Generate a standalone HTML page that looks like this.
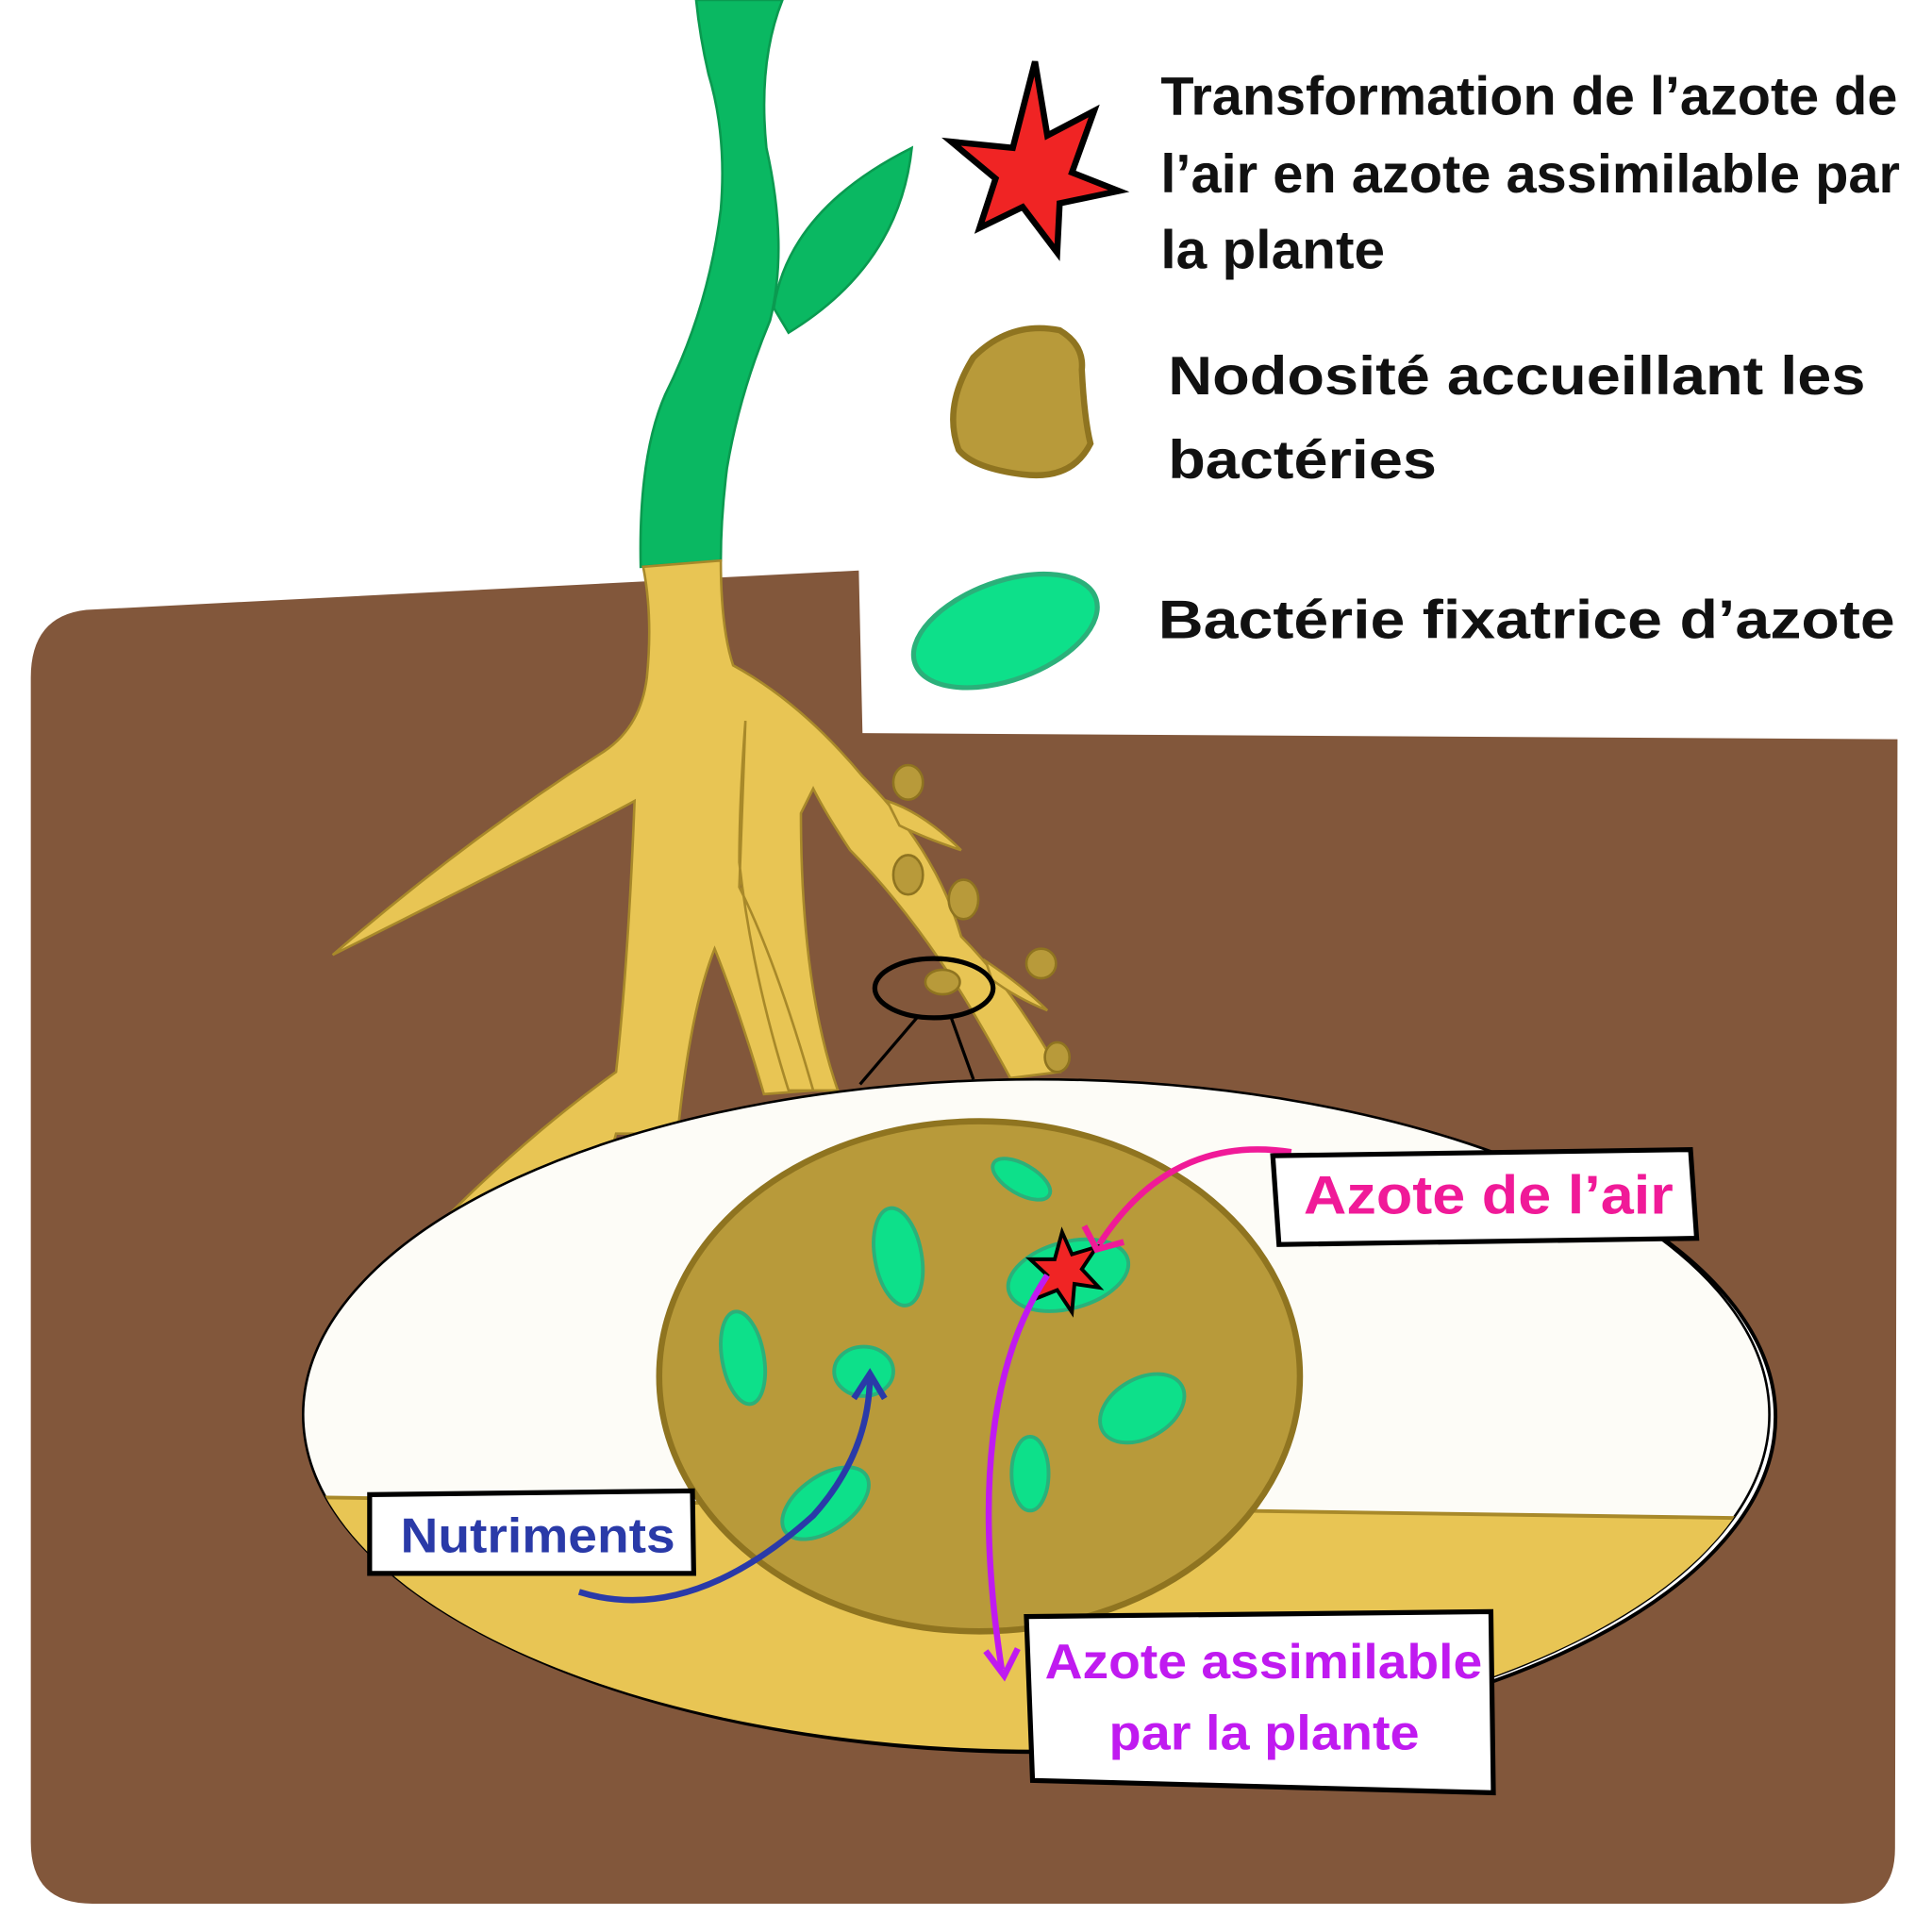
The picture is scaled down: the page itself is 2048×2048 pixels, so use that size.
<!DOCTYPE html>
<html><head><meta charset="utf-8"><style>html,body{margin:0;padding:0;background:#fff}svg{display:block}text{font-family:"Liberation Sans",sans-serif;font-weight:bold}</style></head>
<body>
<svg width="2048" height="2048" viewBox="0 0 1568 1568" xmlns="http://www.w3.org/2000/svg">
<defs><clipPath id="ec"><ellipse cx="841" cy="1148" rx="595" ry="272"/></clipPath></defs>
<path d="M70 495 L697 463 L700 595 L1540 600 L1538 1500 Q1538 1545 1495 1545 L75 1545 Q25 1545 25 1495 L25 550 Q25 500 70 495 Z" fill="#82573b"/>
<path d="M565 0 L635 0 Q615 50 622 120 Q640 200 625 260 Q600 320 590 380 Q585 420 585 455 L520 460 Q518 370 540 320 Q575 250 585 170 Q590 110 575 60 Q568 30 565 0 Z" fill="#0ab862" stroke="#0a9a50" stroke-width="2"/>
<path d="M628 250 Q640 170 740 120 Q730 215 640 270 Z" fill="#0ab862" stroke="#0a9a50" stroke-width="2"/>
<g fill="#e8c554" stroke="#a8892a" stroke-width="2">
<path d="M522 460 L585 455 Q585 510 595 540 Q650 570 700 630 Q760 690 780 760 Q820 800 860 870 L820 875 Q790 820 770 790 Q730 730 690 690 Q670 660 660 640 L650 660 Q650 800 680 885 L640 885 Q610 790 600 700 Q600 650 605 585 L600 720 Q630 780 660 885 L620 888 Q600 820 580 770 Q560 820 550 920 L500 920 Q480 1000 360 990 Q430 920 500 870 Q510 780 515 650 Q460 680 270 775 Q380 680 490 610 Q520 590 525 550 Q530 500 522 460 Z"/>
<path d="M720 650 Q750 660 780 690 Q750 680 730 670 Z"/>
<path d="M800 780 Q830 800 850 820 Q825 810 805 795 Z"/>
</g>
<g fill="#b89a3a" stroke="#8f7420" stroke-width="2">
<ellipse cx="737" cy="635" rx="12" ry="14"/><ellipse cx="737" cy="710" rx="12" ry="16"/><ellipse cx="782" cy="730" rx="12" ry="16"/><ellipse cx="845" cy="782" rx="12" ry="12"/><ellipse cx="858" cy="858" rx="10" ry="12"/><ellipse cx="765" cy="797" rx="14" ry="10"/>
</g>
<ellipse cx="758" cy="802" rx="48" ry="24" fill="none" stroke="#000" stroke-width="4"/>
<path d="M745 825 L698 880 M772 826 L790 876" stroke="#000" stroke-width="2.5"/>
<ellipse cx="846" cy="1150" rx="595" ry="272" fill="#fff" stroke="#000" stroke-width="3"/>
<ellipse cx="841" cy="1148" rx="595" ry="272" fill="#fdfcf7" stroke="#000" stroke-width="2"/>
<g clip-path="url(#ec)"><path d="M240 1215 L1410 1232 L1500 1500 L240 1500 Z" fill="#e8c554" stroke="#a8892a" stroke-width="3"/></g>
<ellipse cx="795" cy="1117" rx="260" ry="207" fill="#b89a3a" stroke="#8f7420" stroke-width="5"/>
<g fill="#0de08a" stroke="#2bb07a" stroke-width="3">
<ellipse cx="829" cy="957" rx="26" ry="12" transform="rotate(30 829 957)"/>
<ellipse cx="729" cy="1020" rx="19" ry="40" transform="rotate(-10 729 1020)"/>
<ellipse cx="603" cy="1102" rx="17" ry="38" transform="rotate(-10 603 1102)"/>
<ellipse cx="701" cy="1113" rx="24" ry="20"/>
<ellipse cx="867" cy="1035" rx="50" ry="27" transform="rotate(-15 867 1035)"/>
<ellipse cx="927" cy="1143" rx="37" ry="24" transform="rotate(-30 927 1143)"/>
<ellipse cx="836" cy="1196" rx="15" ry="30"/>
<ellipse cx="670" cy="1220" rx="40" ry="22" transform="rotate(-35 670 1220)"/>
</g>
<polygon points="862,1000 870,1018 890,1012 878,1030 892,1045 872,1042 870,1065 858,1047 838,1055 850,1035 836,1022 856,1022" fill="#f02424" stroke="#000" stroke-width="3"/>
<path d="M1048 935 Q950 920 892 1010" fill="none" stroke="#f01a98" stroke-width="5"/>
<path d="M880 995 L890 1014 L912 1008" fill="none" stroke="#f01a98" stroke-width="5"/>
<path d="M850 1035 Q780 1140 813 1355" fill="none" stroke="#c01af0" stroke-width="5"/>
<path d="M800 1340 L815 1360 L826 1338" fill="none" stroke="#c01af0" stroke-width="5"/>
<path d="M470 1292 Q560 1320 660 1230 Q705 1180 706 1118" fill="none" stroke="#2a3aa8" stroke-width="5"/>
<path d="M693 1135 L706 1115 L718 1135" fill="none" stroke="#2a3aa8" stroke-width="5"/>
<g fill="#fff" stroke="#000" stroke-width="4">
<path d="M1033 938 L1372 933 L1377 1005 L1038 1010 Z"/>
<path d="M300 1213 L562 1210 L563 1277 L300 1277 Z"/>
<path d="M833 1312 L1210 1308 L1212 1455 L838 1445 Z"/>
</g>
<text x="1058" y="985" font-size="44" fill="#f01a98" textLength="300" lengthAdjust="spacingAndGlyphs">Azote de l’air</text>
<text x="325" y="1260" font-size="40" fill="#2a3aa8" textLength="223" lengthAdjust="spacingAndGlyphs">Nutriments</text>
<text x="848" y="1362" font-size="40" fill="#c01af0" textLength="355" lengthAdjust="spacingAndGlyphs">Azote assimilable</text>
<text x="900" y="1420" font-size="40" fill="#c01af0" textLength="252" lengthAdjust="spacingAndGlyphs">par la plante</text>
<polygon points="840,50 850,110 888,90 870,140 908,155 860,165 858,205 830,168 795,185 808,145 772,115 822,120" fill="#f02424" stroke="#000" stroke-width="5"/>
<path d="M790 290 Q820 260 860 268 Q880 280 878 300 Q880 340 885 360 Q870 390 830 385 Q790 380 778 365 Q765 330 790 290 Z" fill="#b89a3a" stroke="#8f7420" stroke-width="5"/>
<ellipse cx="816" cy="512" rx="78" ry="40" transform="rotate(-20 816 512)" fill="#0de08a" stroke="#2bb07a" stroke-width="4"/>
<g font-size="44" fill="#111">
<text x="942" y="93" textLength="598" lengthAdjust="spacingAndGlyphs">Transformation de l’azote de</text>
<text x="942" y="156" textLength="600" lengthAdjust="spacingAndGlyphs">l’air en azote assimilable par</text>
<text x="942" y="218" textLength="182" lengthAdjust="spacingAndGlyphs">la plante</text>
<text x="948" y="320" textLength="566" lengthAdjust="spacingAndGlyphs">Nodosité accueillant les</text>
<text x="948" y="388" textLength="218" lengthAdjust="spacingAndGlyphs">bactéries</text>
<text x="940" y="518" textLength="598" lengthAdjust="spacingAndGlyphs">Bactérie fixatrice d’azote</text>
</g>
</svg>
</body></html>
